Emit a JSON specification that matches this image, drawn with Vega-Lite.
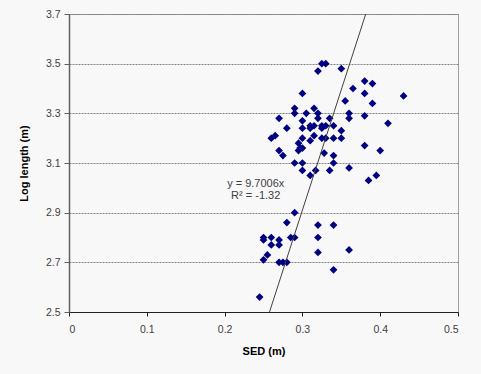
{
  "$schema": "https://vega.github.io/schema/vega-lite/v6.json",
  "width": 389,
  "height": 298,
  "autosize": "none",
  "padding": {"left": 69, "top": 14, "right": 23, "bottom": 62},
  "background": "#f8f8f8",
  "config": {
    "font": "Liberation Sans",
    "view": {"stroke": "#a0a0a0", "strokeWidth": 1, "fill": "#f8f8f8"}
  },
  "datasets": {
    "pts": [
      {"sed": 0.245, "len": 2.56},
      {"sed": 0.25, "len": 2.80},
      {"sed": 0.25, "len": 2.79},
      {"sed": 0.26, "len": 2.80},
      {"sed": 0.26, "len": 2.77},
      {"sed": 0.27, "len": 2.79},
      {"sed": 0.27, "len": 2.77},
      {"sed": 0.255, "len": 2.73},
      {"sed": 0.25, "len": 2.71},
      {"sed": 0.27, "len": 2.70},
      {"sed": 0.275, "len": 2.70},
      {"sed": 0.28, "len": 2.70},
      {"sed": 0.28, "len": 2.86},
      {"sed": 0.285, "len": 2.80},
      {"sed": 0.29, "len": 2.80},
      {"sed": 0.29, "len": 2.90},
      {"sed": 0.32, "len": 2.85},
      {"sed": 0.32, "len": 2.80},
      {"sed": 0.32, "len": 2.74},
      {"sed": 0.34, "len": 2.85},
      {"sed": 0.34, "len": 2.67},
      {"sed": 0.36, "len": 2.75},
      {"sed": 0.325, "len": 3.50},
      {"sed": 0.33, "len": 3.50},
      {"sed": 0.32, "len": 3.47},
      {"sed": 0.35, "len": 3.48},
      {"sed": 0.30, "len": 3.38},
      {"sed": 0.38, "len": 3.43},
      {"sed": 0.39, "len": 3.42},
      {"sed": 0.365, "len": 3.40},
      {"sed": 0.38, "len": 3.38},
      {"sed": 0.43, "len": 3.37},
      {"sed": 0.355, "len": 3.35},
      {"sed": 0.39, "len": 3.34},
      {"sed": 0.29, "len": 3.32},
      {"sed": 0.315, "len": 3.32},
      {"sed": 0.29, "len": 3.30},
      {"sed": 0.305, "len": 3.30},
      {"sed": 0.32, "len": 3.30},
      {"sed": 0.36, "len": 3.30},
      {"sed": 0.38, "len": 3.29},
      {"sed": 0.27, "len": 3.28},
      {"sed": 0.32, "len": 3.28},
      {"sed": 0.335, "len": 3.28},
      {"sed": 0.36, "len": 3.28},
      {"sed": 0.30, "len": 3.27},
      {"sed": 0.41, "len": 3.26},
      {"sed": 0.31, "len": 3.25},
      {"sed": 0.315, "len": 3.25},
      {"sed": 0.325, "len": 3.25},
      {"sed": 0.33, "len": 3.25},
      {"sed": 0.34, "len": 3.25},
      {"sed": 0.31, "len": 3.24},
      {"sed": 0.325, "len": 3.24},
      {"sed": 0.28, "len": 3.24},
      {"sed": 0.30, "len": 3.24},
      {"sed": 0.35, "len": 3.23},
      {"sed": 0.265, "len": 3.21},
      {"sed": 0.26, "len": 3.20},
      {"sed": 0.315, "len": 3.21},
      {"sed": 0.30, "len": 3.20},
      {"sed": 0.325, "len": 3.20},
      {"sed": 0.33, "len": 3.20},
      {"sed": 0.34, "len": 3.20},
      {"sed": 0.35, "len": 3.20},
      {"sed": 0.31, "len": 3.19},
      {"sed": 0.295, "len": 3.18},
      {"sed": 0.38, "len": 3.17},
      {"sed": 0.30, "len": 3.16},
      {"sed": 0.297, "len": 3.16},
      {"sed": 0.295, "len": 3.15},
      {"sed": 0.27, "len": 3.15},
      {"sed": 0.40, "len": 3.15},
      {"sed": 0.328, "len": 3.14},
      {"sed": 0.275, "len": 3.13},
      {"sed": 0.34, "len": 3.13},
      {"sed": 0.29, "len": 3.10},
      {"sed": 0.30, "len": 3.10},
      {"sed": 0.34, "len": 3.10},
      {"sed": 0.36, "len": 3.08},
      {"sed": 0.30, "len": 3.07},
      {"sed": 0.317, "len": 3.07},
      {"sed": 0.335, "len": 3.07},
      {"sed": 0.31, "len": 3.05},
      {"sed": 0.395, "len": 3.05},
      {"sed": 0.385, "len": 3.03}
    ],
    "trend": [
      {"sed": 0.25772, "len": 2.5},
      {"sed": 0.38142, "len": 3.7}
    ],
    "labels": [
      {"sed": 0.240, "len": 3.014, "text": "y = 9.7006x"},
      {"sed": 0.240, "len": 2.966, "text": "R² = -1.32"}
    ]
  },
  "layer": [
    {
      "data": {"name": "pts"},
      "mark": {"type": "point", "shape": "diamond", "filled": true, "color": "#000080", "opacity": 1, "size": 60},
      "encoding": {
        "x": {
          "field": "sed", "type": "quantitative",
          "scale": {"domain": [0, 0.5], "nice": false, "zero": false},
          "axis": {
            "title": "SED (m)", "values": [0, 0.1, 0.2, 0.3, 0.4, 0.5], "format": "~g",
            "grid": false, "domainColor": "#202020", "domainWidth": 1,
            "tickColor": "#202020", "tickSize": 4,
            "labelFont": "Liberation Sans", "labelFontSize": 10.5, "labelColor": "#404040", "labelPadding": 8,
            "titleFont": "Liberation Sans", "titleFontSize": 11, "titleFontWeight": "bold", "titleColor": "#000000", "titlePadding": 11
          }
        },
        "y": {
          "field": "len", "type": "quantitative",
          "scale": {"domain": [2.5, 3.7], "nice": false, "zero": false},
          "axis": {
            "title": "Log length (m)", "values": [2.5, 2.7, 2.9, 3.1, 3.3, 3.5, 3.7], "format": ".1f",
            "grid": true, "gridColor": "#808080", "gridDash": [2, 1], "gridWidth": 1,
            "domainColor": "#606060", "domainWidth": 1.5,
            "tickColor": "#606060", "tickSize": 5,
            "labelFont": "Liberation Sans", "labelFontSize": 10.5, "labelColor": "#404040", "labelPadding": 4,
            "titleFont": "Liberation Sans", "titleFontSize": 11, "titleFontWeight": "bold", "titleColor": "#000000", "titlePadding": 16
          }
        }
      }
    },
    {
      "data": {"name": "trend"},
      "mark": {"type": "line", "color": "#404040", "strokeWidth": 1},
      "encoding": {
        "x": {"field": "sed", "type": "quantitative"},
        "y": {"field": "len", "type": "quantitative"}
      }
    },
    {
      "data": {"name": "labels"},
      "mark": {"type": "text", "font": "Liberation Sans", "fontSize": 11, "color": "#404040", "align": "center", "baseline": "middle"},
      "encoding": {
        "x": {"field": "sed", "type": "quantitative"},
        "y": {"field": "len", "type": "quantitative"},
        "text": {"field": "text"}
      }
    }
  ]
}
